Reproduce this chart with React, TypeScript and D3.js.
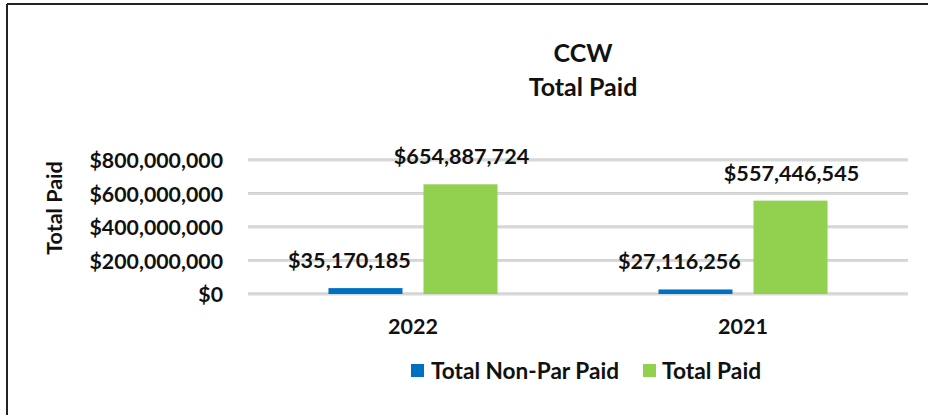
import React from "react";
import * as d3 from "d3";

const categories = ["2022", "2021"];
const seriesNames = ["Total Non-Par Paid", "Total Paid"];
const nonParPaid = [35170185, 27116256];
const totalPaid = [654887724, 557446545];
const yTicks = [0, 200000000, 400000000, 600000000, 800000000];
const titleLines = ["CCW", "Total Paid"];
const yAxisTitle = "Total Paid";

const W = 928;
const H = 415;
const FONT = "Lato, 'Open Sans', sans-serif";
const colors = ["#0070C0", "#92D050"];

export default function App() {
  const left = 248;
  const right = 908;
  const y = d3.scaleLinear().domain([0, 800000000]).range([294, 160]);
  const x0 = d3.scaleBand<string>().domain(categories).range([left, right]).paddingInner(0).paddingOuter(0);
  const inner = d3.scaleBand<string>().domain(seriesNames).range([0, x0.bandwidth()]).paddingInner(0.221).paddingOuter(0.847);
  const fmt = (v: number) => "$" + d3.format(",")(v);
  const series = [nonParPaid, totalPaid];
  const labelDx = [-16, 1];

  return (
    <svg width={W} height={H} style={{ position: "absolute", left: 0, top: 0, background: "#fff" }} fontFamily={FONT}>
      <rect x={0} y={0} width={W} height={H} fill="#fff" />
      {/* outer frame */}
      <line x1={7} y1={4} x2={W} y2={4} stroke="#222" strokeWidth={2} />
      <line x1={7} y1={4} x2={7} y2={H} stroke="#222" strokeWidth={2} />
      {/* title */}
      {titleLines.map((t, i) => (
        <text key={t} x={583} y={52 + i * 34} textAnchor="middle" dominantBaseline="central" fontSize={25} fontWeight={700} fill="#111">
          {t}
        </text>
      ))}
      {/* gridlines */}
      {yTicks.map((t) => (
        <g key={t}>
          <line x1={left} x2={right} y1={y(t)} y2={y(t)} stroke="#d9d9d9" strokeWidth={3} />
          <line x1={left} x2={right} y1={y(t) - 1} y2={y(t) - 1} stroke="#cfcfcf" strokeWidth={0.8} />
          <text x={223} y={y(t)} textAnchor="end" dominantBaseline="central" fontSize={21.3} fontWeight={700} fill="#111">
            {fmt(t)}
          </text>
        </g>
      ))}
      {/* y axis title */}
      <text transform={`translate(54,208) rotate(-90)`} textAnchor="middle" dominantBaseline="central" fontSize={21.5} fontWeight={700} fill="#111">
        {yAxisTitle}
      </text>
      {/* bars */}
      {categories.map((c, ci) => (
        <g key={c} transform={`translate(${x0(c)},0)`}>
          {seriesNames.map((s, si) => {
            const v = series[si][ci];
            const bx = inner(s)!;
            const bw = inner.bandwidth();
            return (
              <g key={s}>
                <rect x={bx} y={y(v)} width={bw} height={y(0) - y(v)} fill={colors[si]} />
                <text x={bx + bw / 2 + labelDx[si]} y={y(v) - 20} textAnchor="middle" fontSize={21.6} fontWeight={700} fill="#111">
                  {fmt(v)}
                </text>
              </g>
            );
          })}
          <text x={x0.bandwidth() / 2} y={326} textAnchor="middle" dominantBaseline="central" fontSize={21.5} fontWeight={700} fill="#111">
            {c}
          </text>
        </g>
      ))}
      {/* legend */}
      <rect x={411} y={364} width={13} height={13} fill={colors[0]} />
      <text x={431} y={370} dominantBaseline="central" fontSize={22.6} fontWeight={700} fill="#111">
        {seriesNames[0]}
      </text>
      <rect x={643} y={364} width={13} height={13} fill={colors[1]} />
      <text x={662} y={370} dominantBaseline="central" fontSize={22.8} fontWeight={700} fill="#111">
        {seriesNames[1]}
      </text>
    </svg>
  );
}
